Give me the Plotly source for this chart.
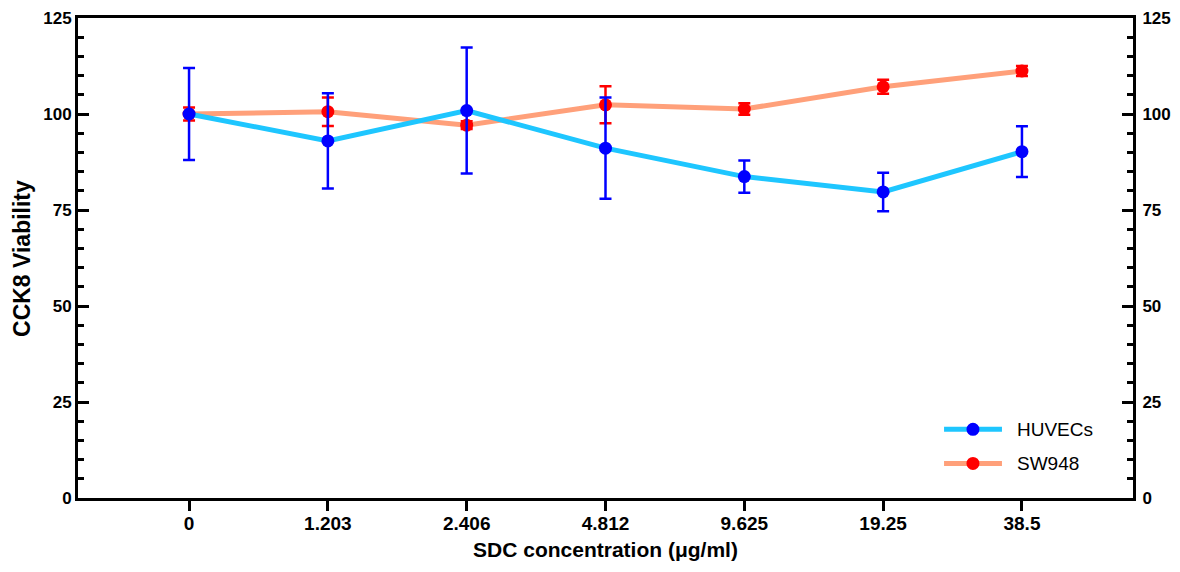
import plotly.graph_objects as go

# Concentrations (µg/ml) shown as evenly spaced categories
concentrations = ["0", "1.203", "2.406", "4.812", "9.625", "19.25", "38.5"]

# CCK8 viability (% of control) with SD
huvec_mean = [100.0, 93.0, 100.9, 91.1, 83.7, 79.7, 90.2]
huvec_sd = [12.0, 12.4, 16.4, 13.2, 4.2, 5.0, 6.6]

sw948_mean = [100.0, 100.6, 97.1, 102.4, 101.3, 107.1, 111.2]
sw948_sd = [1.7, 3.7, 1.0, 4.8, 1.5, 1.8, 1.3]

y_ticks = [0, 25, 50, 75, 100, 125]

FONT = "Arial, 'Liberation Sans', sans-serif"
HUVEC_LINE, HUVEC_MARK = "#1EC6FF", "#0000FF"
SW_LINE, SW_MARK = "#FFA07A", "#FF0000"

fig = go.Figure()

fig.add_trace(go.Scatter(
    x=concentrations, y=sw948_mean, name="SW948", mode="lines+markers",
    line=dict(color=SW_LINE, width=5),
    marker=dict(color=SW_MARK, size=13),
    error_y=dict(type="data", array=sw948_sd, visible=True,
                 color=SW_MARK, thickness=2.5, width=6),
    showlegend=False, yaxis="y",
))
# HUVECs sit on the right-hand (mirrored) axis so they draw on top
fig.add_trace(go.Scatter(
    x=concentrations, y=huvec_mean, name="HUVECs", mode="lines+markers",
    line=dict(color=HUVEC_LINE, width=5),
    marker=dict(color=HUVEC_MARK, size=13),
    error_y=dict(type="data", array=huvec_sd, visible=True,
                 color=HUVEC_MARK, thickness=2.5, width=6),
    showlegend=False, yaxis="y2",
))

ytick_font = dict(family=FONT, size=17, color="black", weight="bold")
xtick_font = dict(family=FONT, size=19, color="black", weight="bold")

yaxis_common = dict(
    range=[0, 125], tickvals=y_ticks, showgrid=False, zeroline=False,
    showline=True, linecolor="black", linewidth=3, automargin=False,
    ticks="inside", ticklen=11, tickwidth=3, tickcolor="black",
    minor=dict(dtick=5, ticks="inside", ticklen=6, tickwidth=3,
               tickcolor="black", showgrid=False),
    tickfont=ytick_font,
)

fig.update_layout(
    width=1180, height=572,
    margin=dict(l=78, r=47, t=18, b=74),
    paper_bgcolor="white", plot_bgcolor="white",
    xaxis=dict(
        type="category", range=[-0.8, 6.8], automargin=False,
        showgrid=False, zeroline=False,
        showline=True, linecolor="black", linewidth=3, mirror=True,
        ticks="outside", ticklen=10, tickwidth=3, tickcolor="black",
        tickfont=xtick_font, ticklabelstandoff=-4,
        title=dict(text="SDC concentration (μg/ml)",
                   font=dict(family=FONT, size=21, color="black", weight="bold"),
                   standoff=10),
    ),
    yaxis=dict(**yaxis_common),
    yaxis2=dict(
        **yaxis_common, overlaying="y", side="right", matches="y",
        ticklabelstandoff=3,
    ),
)

# Left axis title, placed close to the page edge
fig.add_annotation(xref="paper", yref="paper", x=-0.0531, y=0.5,
                   xanchor="center", yanchor="middle", textangle=-90,
                   showarrow=False, text="CCK8 Viability",
                   font=dict(family=FONT, size=23, color="black", weight="bold"))

# Legend drawn as line + dot + label
legend_items = [("HUVECs", HUVEC_LINE, HUVEC_MARK, 0.143),
                ("SW948", SW_LINE, SW_MARK, 0.072)]
for label, lcol, mcol, ypos in legend_items:
    fig.add_shape(type="line", xref="paper", yref="paper",
                  x0=0.8209, x1=0.8758, y0=ypos, y1=ypos,
                  line=dict(color=lcol, width=5))
    fig.add_shape(type="circle", xref="paper", yref="paper",
                  xsizemode="pixel", ysizemode="pixel",
                  xanchor=0.8483, yanchor=ypos,
                  x0=-6.5, x1=6.5, y0=-6.5, y1=6.5,
                  fillcolor=mcol, line=dict(width=0))
    fig.add_annotation(xref="paper", yref="paper", x=0.888, y=ypos,
                       xanchor="left", yanchor="middle", showarrow=False,
                       text=label, font=dict(family=FONT, size=19, color="black"))

fig.write_html("out.html")
